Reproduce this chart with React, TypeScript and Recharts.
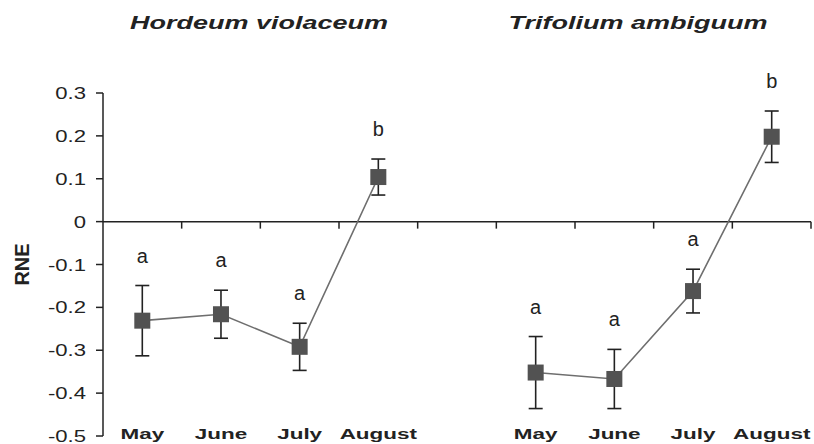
import {
  ErrorBar,
  LabelList,
  Line,
  LineChart,
  ReferenceLine,
  XAxis,
  YAxis,
} from "recharts";

const months = ["May", "June", "July", "August", "", "May", "June", "July", "August"];

// Hordeum violaceum (left panel)
const hordeumMean = [-0.231, -0.216, -0.292, 0.104];
const hordeumErr = [0.082, 0.056, 0.055, 0.042];
const hordeumLetters = ["a", "a", "a", "b"];

// Trifolium ambiguum (right panel)
const trifoliumMean = [-0.352, -0.367, -0.162, 0.198];
const trifoliumErr = [0.084, 0.069, 0.051, 0.06];
const trifoliumLetters = ["a", "a", "a", "b"];

const yTicks = [0.3, 0.2, 0.1, 0, -0.1, -0.2, -0.3, -0.4, -0.5];

const W = 814;
const H = 444;
const TOP = 93;
const BOTTOM = 436;
const Y_MIN = -0.5;
const Y_MAX = 0.3;
const PX_PER_UNIT = (BOTTOM - TOP) / (Y_MAX - Y_MIN);
const FONT = "'Liberation Sans', Arial, sans-serif";
const INK = "#222";

const data = months.map((month, i) => {
  const h = i < 4 ? i : -1;
  const t = i > 4 ? i - 5 : -1;
  return {
    month,
    hv: h >= 0 ? hordeumMean[h] : null,
    hvErr: h >= 0 ? hordeumErr[h] : null,
    hvLetter: h >= 0 ? hordeumLetters[h] : null,
    ta: t >= 0 ? trifoliumMean[t] : null,
    taErr: t >= 0 ? trifoliumErr[t] : null,
    taLetter: t >= 0 ? trifoliumLetters[t] : null,
  };
});

const fmt = (v: number) => (v === 0 ? "0" : v.toFixed(1));

const YTick = ({ x, y, payload }: any) => (
  <text
    transform={`translate(${x},${y}) scale(1.3,1)`}
    textAnchor="end"
    dy={6}
    fontSize={17}
    fontFamily={FONT}
    fill={INK}
  >
    {fmt(payload.value)}
  </text>
);

const XTick = ({ x, y, payload }: any) => (
  <text
    transform={`translate(${x},${y + 3}) scale(1.45,1)`}
    textAnchor="middle"
    fontSize={15.5}
    fontWeight="bold"
    fontFamily={FONT}
    fill={INK}
  >
    {payload.value}
  </text>
);

const SquareDot = ({ cx, cy }: any) => {
  if (cx == null || cy == null) return <g />;
  return <rect x={cx - 8} y={cy - 8} width={16} height={16} fill="#525252" />;
};

// x-axis at zero with downward ticks at category boundaries
const ZeroAxis = ({ x1, x2, y1 }: any) => {
  const step = (x2 - x1) / months.length;
  return (
    <g stroke={INK} strokeWidth={1.5}>
      <line x1={x1} x2={x2} y1={y1} y2={y1} />
      {months.map((_, i) => (
        <line key={i} x1={x1 + step * (i + 1)} x2={x1 + step * (i + 1)} y1={y1} y2={y1 + 7} />
      ))}
    </g>
  );
};

const letterLabel = (errs: (number | null)[]) => (props: any) => {
  const { x, y, value, index } = props;
  if (value == null || y == null) return null;
  const err = errs[index] ?? 0;
  return (
    <text
      x={x}
      y={y - err * PX_PER_UNIT - 29 + 6}
      textAnchor="middle"
      fontSize={20}
      fontFamily={FONT}
      fill={INK}
    >
      {value}
    </text>
  );
};

export default function App() {
  return (
    <div style={{ position: "absolute", left: 0, top: 0, width: W, height: H, background: "#fff" }}>
      <LineChart
        width={W}
        height={H}
        data={data}
        margin={{ top: TOP, right: 3, bottom: H - BOTTOM - 1, left: 0 }}
      >
        <XAxis
          dataKey="month"
          axisLine={false}
          tickLine={false}
          tickSize={0}
          tickMargin={0}
          height={1}
          interval={0}
          padding={{ left: 39.3, right: 39.3 }}
          tick={<XTick />}
        />
        <YAxis
          domain={[Y_MIN, Y_MAX]}
          ticks={yTicks}
          width={103}
          tickSize={7}
          tickMargin={10}
          axisLine={{ stroke: INK, strokeWidth: 1.5 }}
          tickLine={{ stroke: INK, strokeWidth: 1.5 }}
          tick={<YTick />}
          interval={0}
          allowDataOverflow
          label={(
            props: any
          ) => (
            <text
              transform={`translate(29,${(TOP + BOTTOM) / 2}) rotate(-90)`}
              textAnchor="middle"
              fontSize={20}
              fontWeight="bold"
              fontFamily={FONT}
              fill={INK}
            >
              RNE
            </text>
          )}
        />
        <ReferenceLine y={0} shape={<ZeroAxis />} />
        <Line
          dataKey="hv"
          stroke="#6e6e6e"
          strokeWidth={1.6}
          dot={<SquareDot />}
          activeDot={false}
          isAnimationActive={false}
        >
          <ErrorBar dataKey="hvErr" width={7} stroke={INK} strokeWidth={1.6} />
          <LabelList dataKey="hvLetter" content={letterLabel(data.map((d) => d.hvErr))} />
        </Line>
        <Line
          dataKey="ta"
          stroke="#6e6e6e"
          strokeWidth={1.6}
          dot={<SquareDot />}
          activeDot={false}
          isAnimationActive={false}
        >
          <ErrorBar dataKey="taErr" width={7} stroke={INK} strokeWidth={1.6} />
          <LabelList dataKey="taLetter" content={letterLabel(data.map((d) => d.taErr))} />
        </Line>
      </LineChart>
      <svg
        width={W}
        height={60}
        style={{ position: "absolute", left: 0, top: 0, pointerEvents: "none" }}
      >
        <text
          transform="translate(259,29) scale(1.5,1)"
          textAnchor="middle"
          fontSize={18}
          fontWeight="bold"
          fontStyle="italic"
          fontFamily={FONT}
          fill={INK}
        >
          Hordeum violaceum
        </text>
        <text
          transform="translate(638,29) scale(1.5,1)"
          textAnchor="middle"
          fontSize={18}
          fontWeight="bold"
          fontStyle="italic"
          fontFamily={FONT}
          fill={INK}
        >
          Trifolium ambiguum
        </text>
      </svg>
    </div>
  );
}
